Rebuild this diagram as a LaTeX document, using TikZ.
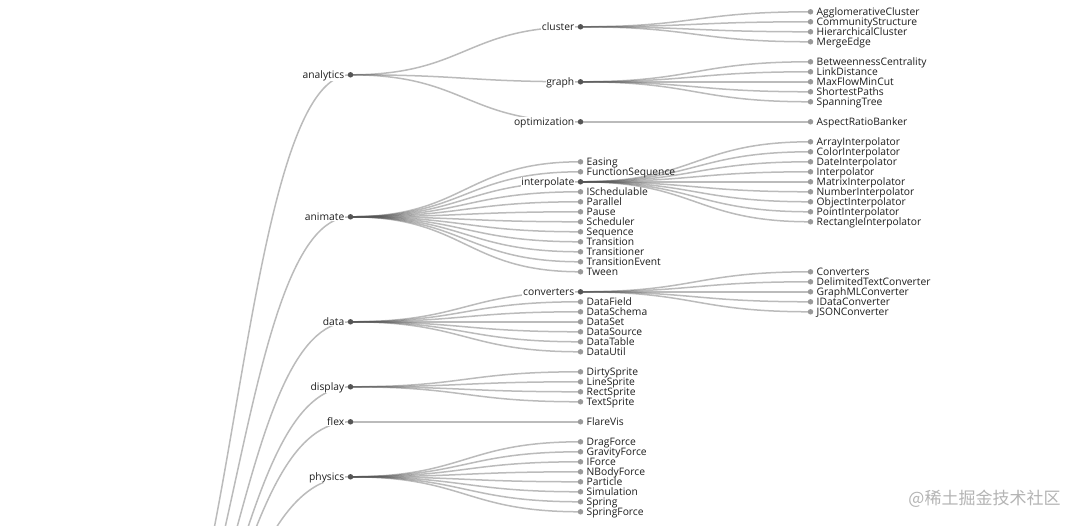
\documentclass[tikz,border=0pt]{standalone}
\usepackage{fontspec}
\setmainfont{Open Sans}
\newfontfamily\cjk{Noto Sans CJK SC}
\definecolor{lnkc}{HTML}{555555}
\definecolor{brc}{HTML}{555555}
\definecolor{lfc}{HTML}{999999}
\definecolor{txtc}{HTML}{1E1E1E}
\definecolor{wmc}{HTML}{B4B4B4}
\pgfdeclarelayer{bg}
\pgfsetlayers{bg,main}
\tikzset{
  lnk/.style={draw=lnkc, draw opacity=0.4, line width=1.5pt},
  branch/.style={circle, fill=brc, inner sep=0pt, minimum size=5.5pt},
  leaf/.style={circle, fill=lfc, inner sep=0pt, minimum size=5.5pt},
  lbl/.style={inner sep=0pt, text=txtc, font=\fontsize{10.3}{12}\selectfont},
  lbll/.style={lbl, anchor=base east, fill=white, inner xsep=0.8pt, inner ysep=0.4pt},
  lblr/.style={lbl, anchor=base west},
}
\newcommand\lf[3]{\node[leaf] (#1) at (#2,#3) {}; \node[lblr] (#1-t) at (#2+6,#3+3.3) {#1};}
\newcommand\br[3]{\node[branch] (#1) at (#2,#3) {}; \node[lbll] (#1-t) at (#2-5.2,#3+3.3) {#1};}
\newcommand\lk[2]{\draw[lnk] (#1.center) .. controls +(115,0) and +(-115,0) .. (#2.center);}
\begin{document}
\begin{tikzpicture}[x=1pt,y=-1pt]
\useasboundingbox (0,0) rectangle (1082,526);
\begin{scope}[yshift=-0.8pt]
\coordinate (flare) at (120,745);
% depth 1
\br{analytics}{350.5}{74}
\br{animate}{350.5}{216}
\br{data}{350.5}{321}
\br{display}{350.5}{386}
\br{flex}{350.5}{421}
\br{physics}{350.5}{476}
% depth 2
\br{cluster}{580.5}{26}
\br{graph}{580.5}{81}
\br{optimization}{580.5}{121}
\br{interpolate}{580.5}{181}
\br{converters}{580.5}{291}
\foreach \n/\y in {Easing/161,FunctionSequence/171,ISchedulable/191,Parallel/201,Pause/211,Scheduler/221,Sequence/231,Transition/241,Transitioner/251,TransitionEvent/261,Tween/271,
  DataField/301,DataSchema/311,DataSet/321,DataSource/331,DataTable/341,DataUtil/351,
  DirtySprite/371,LineSprite/381,RectSprite/391,TextSprite/401,FlareVis/421,
  DragForce/441,GravityForce/451,IForce/461,NBodyForce/471,Particle/481,Simulation/491,Spring/501,SpringForce/511}
  {\lf{\n}{580.5}{\y}}
% depth 3
\foreach \n/\y in {AgglomerativeCluster/11,CommunityStructure/21,HierarchicalCluster/31,MergeEdge/41,
  BetweennessCentrality/61,LinkDistance/71,MaxFlowMinCut/81,ShortestPaths/91,SpanningTree/101,
  AspectRatioBanker/121,
  ArrayInterpolator/141,ColorInterpolator/151,DateInterpolator/161,Interpolator/171,MatrixInterpolator/181,NumberInterpolator/191,ObjectInterpolator/201,PointInterpolator/211,RectangleInterpolator/221,
  Converters/271,DelimitedTextConverter/281,GraphMLConverter/291,IDataConverter/301,JSONConverter/311}
  {\lf{\n}{810.5}{\y}}
\end{scope}
\node[font=\cjk\fontsize{17}{18}\selectfont, text=wmc, inner sep=0pt] (wm) at (984.5,498.5) {@稀土掘金技术社区};
\begin{pgfonlayer}{bg}
\fill[white] (0,0) rectangle (1082,526);
\clip (0,0) rectangle (1082,526);
\foreach \c in {analytics,animate,data,display,flex,physics} {\lk{flare}{\c}}
\foreach \c in {cluster,graph,optimization} {\lk{analytics}{\c}}
\foreach \c in {Easing,FunctionSequence,interpolate,ISchedulable,Parallel,Pause,Scheduler,Sequence,Transition,Transitioner,TransitionEvent,Tween} {\lk{animate}{\c}}
\foreach \c in {converters,DataField,DataSchema,DataSet,DataSource,DataTable,DataUtil} {\lk{data}{\c}}
\foreach \c in {DirtySprite,LineSprite,RectSprite,TextSprite} {\lk{display}{\c}}
\lk{flex}{FlareVis}
\foreach \c in {DragForce,GravityForce,IForce,NBodyForce,Particle,Simulation,Spring,SpringForce} {\lk{physics}{\c}}
\foreach \c in {AgglomerativeCluster,CommunityStructure,HierarchicalCluster,MergeEdge} {\lk{cluster}{\c}}
\foreach \c in {BetweennessCentrality,LinkDistance,MaxFlowMinCut,ShortestPaths,SpanningTree} {\lk{graph}{\c}}
\lk{optimization}{AspectRatioBanker}
\foreach \c in {ArrayInterpolator,ColorInterpolator,DateInterpolator,Interpolator,MatrixInterpolator,NumberInterpolator,ObjectInterpolator,PointInterpolator,RectangleInterpolator} {\lk{interpolate}{\c}}
\foreach \c in {Converters,DelimitedTextConverter,GraphMLConverter,IDataConverter,JSONConverter} {\lk{converters}{\c}}
\end{pgfonlayer}
\end{tikzpicture}
\end{document}
